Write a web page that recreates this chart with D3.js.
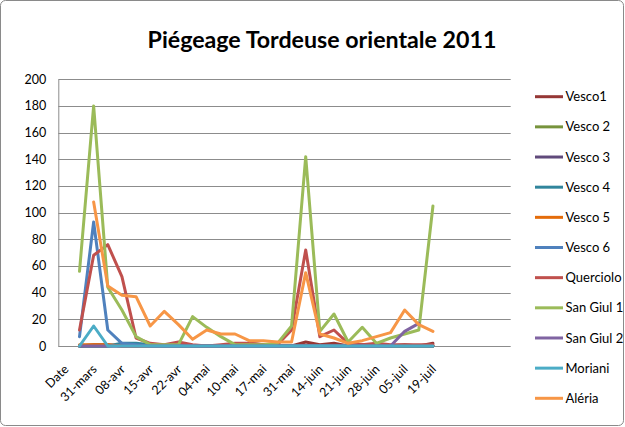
<!DOCTYPE html>
<html>
<head>
<meta charset="utf-8">
<script src="https://cdn.jsdelivr.net/npm/d3@7"></script>
<style>
  html, body { margin: 0; padding: 0; background: #fff; }
  svg { display: block; font-family: Lato, "Open Sans", sans-serif; }
</style>
</head>
<body>
<svg id="chart" width="625" height="427"></svg>
<script>
// ---- Data ----
const title = "Piégeage Tordeuse orientale 2011";
// 32 category slots; only every other label is shown (as in the original)
const categories = ["Date","24-mars","31-mars","04-avr","08-avr","12-avr","15-avr","19-avr","22-avr","27-avr",
  "04-mai","06-mai","10-mai","13-mai","17-mai","24-mai","31-mai","07-juin","14-juin","17-juin",
  "21-juin","24-juin","28-juin","01-juil","05-juil","12-juil","19-juil","","","","",""];
const yTicks = [0,20,40,60,80,100,120,140,160,180,200];

// values from "24-mars" (slot 1) to "19-juil" (slot 26)
const vesco1    = [0,1,1,0,0,1,0,2,0,0,0,1,2,1,0,0,3,1,2,0,1,1,0,1,0,2];
const vesco2    = [0,0,0,1,0,0,0,0,0,0,0,0,0,0,0,0,0,0,0,0,0,0,0,0,0,0];
const vesco3    = [0,0,0,0,0,0,0,0,0,0,0,0,0,0,0,0,0,0,0,0,0,0,0,0,0,0];
const vesco4    = [0,0,0,2,2,1,0,0,0,0,0,0,0,0,0,0,0,0,0,0,0,0,0,0,0,0];
const vesco5    = [1,1,1,0,0,0,0,0,0,0,0,0,0,0,0,0,0,0,0,0,0,0,0,0,0,0];
const vesco6    = [7,93,12,2,1,0,0,0,0,0,0,0,0,0,0,0,0,0,0,0,0,0,0,0,0,0];
const querciolo = [12,68,76,52,6,2,1,3,1,0,1,2,2,1,1,12,72,7,12,2,1,2,1,1,1,1];
const sanGiul1  = [56,180,44,27,7,1,1,1,22,14,7,1,1,1,2,15,142,11,24,3,14,2,6,9,12,105];
const sanGiul2  = [0,0,0,0,0,0,0,0,0,0,0,0,0,0,0,0,0,0,0,0,0,0,0,11,17,null];
const moriani   = [0,15,0,0,0,0,0,0,0,0,0,0,0,0,0,0,0,0,0,0,0,0,0,0,0,0];
const aleria    = [null,108,45,38,37,15,26,16,5,12,9,9,4,4,3,3,55,9,6,2,4,7,10,27,16,11];

const seriesNames  = ["Vesco1","Vesco 2","Vesco 3","Vesco 4","Vesco 5","Vesco 6","Querciolo","San Giul 1","San Giul 2","Moriani","Aléria"];
const seriesValues = [vesco1,vesco2,vesco3,vesco4,vesco5,vesco6,querciolo,sanGiul1,sanGiul2,moriani,aleria];
const seriesColors = ["#953735","#77933C","#604A7B","#31859C","#E46C0A","#4F81BD","#C0504D","#9BBB59","#8064A2","#4BACC6","#F79646"];
const firstSlot = 1;

// ---- Layout ----
const svg = d3.select("#chart");
const W = 625, H = 427;
const plot = {left: 58.3, right: 510.7, top: 79.3, bottom: 346};

svg.append("rect").attr("x",0.5).attr("y",0.5).attr("width",W-2).attr("height",H-2)
  .attr("rx",5).attr("fill","#fff").attr("stroke","#8a8a8a").attr("stroke-width",1);

const x = d3.scaleBand().domain(d3.range(categories.length)).range([plot.left, plot.right]).paddingInner(0).paddingOuter(0);
const cx = i => x(i) + x.bandwidth()/2;
const y = d3.scaleLinear().domain([0,200]).range([plot.bottom, plot.top]);

// gridlines
svg.append("g").selectAll("line").data(yTicks).join("line")
  .attr("x1",plot.left).attr("x2",plot.right)
  .attr("y1",d=>Math.round(y(d))+0.5).attr("y2",d=>Math.round(y(d))+0.5)
  .attr("stroke","#8c8c8c").attr("stroke-width",1);

// y axis
const yAxis = d3.axisLeft(y).tickValues(yTicks).tickSize(0).tickPadding(12);
const gy = svg.append("g").attr("transform",`translate(${plot.left},0)`).call(yAxis);
gy.select(".domain").attr("stroke","#8c8c8c");
gy.selectAll("text").attr("font-family","Lato, sans-serif").attr("font-size","12.5px").attr("fill","#000");

// x axis labels (every other slot)
const xAxis = d3.axisBottom(x).tickSize(0).tickFormat((d,i)=> i%2===0 ? categories[d] : "");
const gx = svg.append("g").attr("transform",`translate(0,${plot.bottom})`).call(xAxis);
gx.select(".domain").remove();
gx.selectAll(".tick text")
  .attr("font-family","Lato, sans-serif").attr("font-size","12.5px").attr("fill","#000")
  .attr("text-anchor","end").attr("dy",null).attr("y",null)
  .attr("transform","translate(4,24) rotate(-45)");

// lines
const line = d3.line().defined(d=>d.v!==null).x(d=>cx(d.i)).y(d=>y(d.v));
seriesValues.forEach((vals,k)=>{
  const pts = vals.map((v,j)=>({i:j+firstSlot, v:v}));
  svg.append("path").datum(pts).attr("d",line)
    .attr("fill","none").attr("stroke",seriesColors[k]).attr("stroke-width",3)
    .attr("stroke-linejoin","round").attr("stroke-linecap","round");
});

// legend
const lg = svg.append("g");
seriesNames.forEach((n,k)=>{
  const ly = 96.7 + k*30.16;
  lg.append("line").attr("x1",535).attr("x2",563).attr("y1",ly).attr("y2",ly)
    .attr("stroke",seriesColors[k]).attr("stroke-width",3);
  lg.append("text").attr("x",565.5).attr("y",ly).attr("dy","0.35em")
    .attr("font-family","Lato, sans-serif").attr("font-size","13px").attr("fill","#000").text(n);
});

// title
const t = svg.append("text").attr("x",322).attr("y",48).attr("text-anchor","middle")
  .attr("font-family","Lato, sans-serif").attr("font-weight","bold").attr("font-size","24px")
  .attr("fill","#000").text(title);
const tw = t.node().getComputedTextLength();
t.attr("font-size", (24*349/tw).toFixed(2)+"px");
</script>
</body>
</html>
